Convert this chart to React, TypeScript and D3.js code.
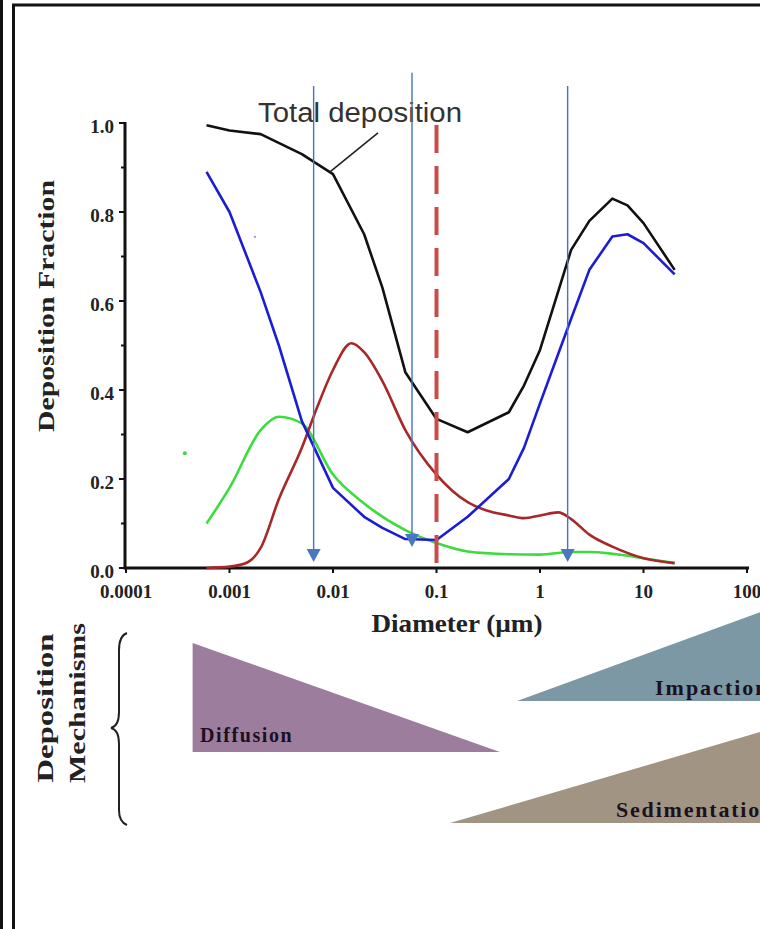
import React from 'react';
import * as d3 from 'd3';

const width = 760;
const height = 929;

// diameters in µm and deposition fractions
const totalD = [0.0006, 0.001, 0.002, 0.005, 0.01, 0.02, 0.03, 0.05, 0.1, 0.2, 0.5, 0.7, 1, 2, 3, 5, 7, 10, 20];
const totalF = [0.995, 0.983, 0.975, 0.93, 0.885, 0.75, 0.63, 0.44, 0.335, 0.305, 0.35, 0.41, 0.49, 0.715, 0.78, 0.83, 0.815, 0.775, 0.67];

const headD = [0.0006, 0.001, 0.002, 0.003, 0.005, 0.01, 0.02, 0.03, 0.05, 0.1, 0.2, 0.5, 0.7, 1, 2, 3, 5, 7, 10, 20];
const headF = [0.89, 0.8, 0.62, 0.5, 0.33, 0.18, 0.115, 0.09, 0.065, 0.063, 0.115, 0.2, 0.27, 0.37, 0.56, 0.67, 0.745, 0.75, 0.73, 0.66];

const tbD = [0.0006, 0.001, 0.002, 0.003, 0.005, 0.01, 0.02, 0.05, 0.1, 0.2, 0.5, 1, 2, 3, 5, 10, 20];
const tbF = [0.1, 0.18, 0.31, 0.34, 0.325, 0.21, 0.145, 0.085, 0.056, 0.037, 0.031, 0.03, 0.036, 0.036, 0.032, 0.022, 0.011];

const alvD = [0.0006, 0.001, 0.0015, 0.002, 0.003, 0.005, 0.007, 0.01, 0.015, 0.02, 0.03, 0.05, 0.1, 0.2, 0.3, 0.5, 0.7, 1, 1.5, 2, 3, 5, 10, 20];
const alvF = [0, 0.003, 0.013, 0.045, 0.155, 0.27, 0.36, 0.445, 0.505, 0.485, 0.42, 0.31, 0.21, 0.148, 0.13, 0.118, 0.112, 0.118, 0.125, 0.11, 0.075, 0.048, 0.022, 0.011];

const xTicks = [0.0001, 0.001, 0.01, 0.1, 1, 10, 100];
const xTickLabels = ['0.0001', '0.001', '0.01', '0.1', '1', '10', '100'];
const yTicks = [0, 0.2, 0.4, 0.6, 0.8, 1.0];
const yMinorTicks = [0.1, 0.3, 0.5, 0.7, 0.9];

// annotation arrows (diameter, top fraction, tip fraction)
const arrowD = [0.0065, 0.058, 1.85];
const arrowTop = [1.083, 1.113, 1.083];
const arrowTip = [0.0135, 0.047, 0.0135];

const cutoffD = 0.1;

// deposition mechanism wedges: [start, end] diameter
const mechNames = ['Diffusion', 'Impaction', 'Sedimentation'];
const mechFrom = [0.00044, 0.6, 0.135];
const mechTo = [0.41, 145, 145];
const mechColors = ['#9d7d9d', '#7b98a4', '#a29483'];

const serif = '"Liberation Serif", "Times New Roman", serif';
const sans = '"Liberation Sans", Arial, sans-serif';

const x = d3.scaleLog().domain([0.0001, 100]).range([126, 747]);
const y = d3.scaleLinear().domain([0, 1]).range([568, 123]);

const Curve = props => {
  let { ds, fs, color, smooth } = props;
  let line = d3
    .line()
    .x(d => x(d[0]))
    .y(d => y(d[1]))
    .curve(smooth ? d3.curveMonotoneX : d3.curveLinear);
  let pts = ds.map((d, i) => [d, fs[i]]);
  return <path d={line(pts)} fill="none" stroke={color} strokeWidth={2.6} strokeLinejoin="round" />;
};

const Axes = () => {
  return (
    <g fontFamily={serif} fontWeight="bold" fill="#222">
      <line x1={x(0.0001) - 1} x2={x(100) + 2} y1={y(0)} y2={y(0)} stroke="#111" strokeWidth={3} />
      <line x1={x(0.0001) - 1} x2={x(0.0001) - 1} y1={y(1) - 1} y2={y(0) + 1.5} stroke="#111" strokeWidth={3} />
      {xTicks.map((t, i) => (
        <g key={'x' + i}>
          <line x1={x(t)} x2={x(t)} y1={y(0)} y2={y(0) + 5} stroke="#111" strokeWidth={2} />
          <text x={x(t)} y={598} textAnchor="middle" fontSize={19}>{xTickLabels[i]}</text>
        </g>
      ))}
      {yTicks.map((t, i) => (
        <g key={'y' + i}>
          <line x1={x(0.0001) - 7} x2={x(0.0001)} y1={y(t)} y2={y(t)} stroke="#111" strokeWidth={2} />
          <text x={114} y={y(t) + 10} textAnchor="end" fontSize={19}>{t.toFixed(1)}</text>
        </g>
      ))}
      {yMinorTicks.map((t, i) => (
        <line key={'m' + i} x1={x(0.0001) - 5} x2={x(0.0001)} y1={y(t)} y2={y(t)} stroke="#111" strokeWidth={2} />
      ))}
      <text x={457} y={632} textAnchor="middle" fontSize={25} textLength={171} lengthAdjust="spacingAndGlyphs">Diameter (µm)</text>
      <text transform="translate(54,306) rotate(-90)" textAnchor="middle" fontSize={23} textLength={252} lengthAdjust="spacingAndGlyphs">Deposition Fraction</text>
    </g>
  );
};

const Arrows = () => {
  return arrowD.map((d, i) => {
    let ax = x(d);
    let tip = y(arrowTip[i]);
    return (
      <g key={'a' + i}>
        <line x1={ax} x2={ax} y1={y(arrowTop[i])} y2={tip - 10} stroke="#4472c4" strokeWidth={1.4} />
        <polygon points={`${ax - 7},${tip - 13} ${ax + 7},${tip - 13} ${ax},${tip}`} fill="#4a78c0" />
      </g>
    );
  });
};

const Mechanisms = () => {
  let bands = [
    { top: 643, bottom: 752, falling: true, tx: 200, ty: 742, size: 20, sp: 1.6 },
    { top: 611, bottom: 701, falling: false, tx: 655, ty: 695, size: 22, sp: 2 },
    { top: 731, bottom: 823, falling: false, tx: 616, ty: 817, size: 22, sp: 1.8 }
  ];
  return (
    <g fontFamily={serif} fontWeight="bold">
      {bands.map((b, i) => {
        let x0 = x(mechFrom[i]);
        let x1 = x(mechTo[i]);
        let pts = b.falling
          ? `${x0},${b.top} ${x0},${b.bottom} ${x1},${b.bottom}`
          : `${x0},${b.bottom} ${x1},${b.top} ${x1},${b.bottom}`;
        return (
          <g key={'mech' + i}>
            <polygon points={pts} fill={mechColors[i]} />
            <text x={b.tx} y={b.ty} fontSize={b.size} letterSpacing={b.sp} fill="#1a1020">{mechNames[i]}</text>
          </g>
        );
      })}
      <text transform="translate(53,708) rotate(-90)" textAnchor="middle" fontSize={23} textLength={149} lengthAdjust="spacingAndGlyphs" fill="#222">Deposition</text>
      <text transform="translate(85,703) rotate(-90)" textAnchor="middle" fontSize={23} textLength={160} lengthAdjust="spacingAndGlyphs" fill="#222">Mechanisms</text>
      <path d="M127,633 Q119,636 119,650 L119,712 Q119,726 111,728 Q119,730 119,744 L119,810 Q119,822 127,825" fill="none" stroke="#222" strokeWidth={2} />
    </g>
  );
};

export default function App() {
  return (
    <svg width={width} height={height} style={{ position: 'absolute', left: 0, top: 0, background: '#fff' }}>
      <rect x={0} y={0} width={width} height={height} fill="#fff" />
      {/* frame */}
      <line x1={1.5} x2={1.5} y1={0} y2={height} stroke="#111" strokeWidth={3} />
      <line x1={13.5} x2={13.5} y1={4} y2={height} stroke="#111" strokeWidth={3} />
      <line x1={12} x2={width} y1={5} y2={5} stroke="#111" strokeWidth={3} />

      <Axes />
      <Curve ds={tbD} fs={tbF} color="#3ddc3d" smooth={true} />
      <Curve ds={alvD} fs={alvF} color="#a8282a" smooth={true} />
      <Curve ds={headD} fs={headF} color="#1c1cd4" smooth={false} />
      <Curve ds={totalD} fs={totalF} color="#111" smooth={false} />
      <circle cx={x(0.00037)} cy={y(0.258)} r={2} fill="#3ddc3d" />
      <line x1={x(0.00172)} x2={x(0.0018)} y1={y(0.744)} y2={y(0.744)} stroke="#6060d0" strokeWidth={1.2} />

      <line x1={x(cutoffD)} x2={x(cutoffD)} y1={125} y2={y(0)} stroke="#cc4a4a" strokeWidth={4} strokeDasharray="28 13" />

      <text x={258} y={122} fontFamily={sans} fontSize={27} fill="#333" textLength={204} lengthAdjust="spacingAndGlyphs">Total deposition</text>
      <line x1={x(0.00935)} y1={y(0.89)} x2={x(0.0272)} y2={y(0.978)} stroke="#222" strokeWidth={1.6} />

      <Arrows />
      <Mechanisms />
    </svg>
  );
}
